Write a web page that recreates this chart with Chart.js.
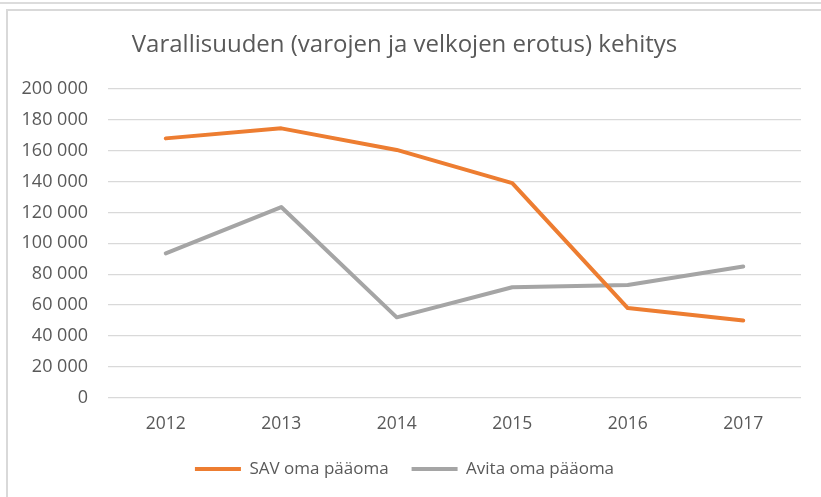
<!DOCTYPE html>
<html>
<head>
<meta charset="utf-8">
<script src="https://cdn.jsdelivr.net/npm/chart.js@4/dist/chart.umd.min.js"></script>
<style>
    html, body { margin: 0; padding: 0; background: #fff; }
    body { width: 821px; height: 497px; position: relative; overflow: hidden; }
    .topline { position: absolute; left: 0; top: 2px; width: 821px; height: 2px; background: #dcdcdc; }
    .frame { position: absolute; left: 6px; top: 9px; width: 830px; height: 500px;
             border-top: 2px solid #d9d9d9; border-left: 2px solid #d9d9d9; }
    #wrap { position: absolute; left: 0; top: 0; width: 821px; height: 497px; }
</style>
</head>
<body>
<div class="topline"></div>
<div class="frame"></div>
<div id="wrap"><canvas id="chart" width="821" height="497"></canvas></div>
<script>
// ==================== DATA ====================
const years = ["2012", "2013", "2014", "2015", "2016", "2017"];
const savOmaPaaoma = [168000, 174500, 160500, 139000, 58000, 50000];
const avitaOmaPaaoma = [93500, 123500, 52000, 71500, 73000, 85000];
const yTicks = [0, 20000, 40000, 60000, 80000, 100000, 120000, 140000, 160000, 180000, 200000];

const titleText = "Varallisuuden (varojen ja velkojen erotus) kehitys";
const FONT = "'Open Sans', 'Liberation Sans', sans-serif";
const TEXT_COLOR = "#595959";

// format 200000 -> "200 000"
function fmt(v) {
    return String(v).replace(/\B(?=(\d{3})+(?!\d))/g, " ");
}

const ctx = document.getElementById("chart");
new Chart(ctx, {
    type: "line",
    data: {
        labels: years,
        datasets: [
            {
                label: "SAV oma pääoma",
                data: savOmaPaaoma,
                borderColor: "#ED7D31",
                backgroundColor: "#ED7D31",
                borderWidth: 4,
                borderCapStyle: "round",
                borderJoinStyle: "round",
                pointRadius: 0,
                tension: 0,
            },
            {
                label: "Avita oma pääoma",
                data: avitaOmaPaaoma,
                borderColor: "#A5A5A5",
                backgroundColor: "#A5A5A5",
                borderWidth: 4,
                borderCapStyle: "round",
                borderJoinStyle: "round",
                pointRadius: 0,
                tension: 0,
            },
        ],
    },
    options: {
        responsive: false,
        animation: false,
        layout: { padding: { left: 8, right: 20, top: 0, bottom: 9.6 } },
        plugins: {
            title: {
                display: true,
                text: titleText,
                color: TEXT_COLOR,
                font: { family: FONT, size: 24, weight: "normal" },
                padding: { top: 31, bottom: 29.2 },
            },
            legend: {
                position: "bottom",
                labels: {
                    color: TEXT_COLOR,
                    font: { family: FONT, size: 17 },
                    boxWidth: 46,
                    boxHeight: 4,
                    padding: 23,
                    useBorderRadius: true,
                    borderRadius: 2,
                    generateLabels: (chart) => chart.data.datasets.map((ds, i) => ({
                        text: ds.label,
                        fillStyle: ds.borderColor,
                        strokeStyle: ds.borderColor,
                        lineWidth: 0,
                        fontColor: TEXT_COLOR,
                        datasetIndex: i,
                        hidden: false,
                    })),
                },
            },
            tooltip: { enabled: false },
        },
        scales: {
            x: {
                offset: true,
                afterFit: (scale) => { scale.height = 39.8; },
                grid: { display: false, drawTicks: false, offset: true },
                border: { display: false },
                ticks: {
                    color: TEXT_COLOR,
                    font: { family: FONT, size: 17.5 },
                    padding: 16,
                    maxRotation: 0,
                },
            },
            y: {
                min: 0,
                max: 200000,
                afterFit: (scale) => { scale.width = 100; },
                afterBuildTicks: (scale) => { scale.ticks = yTicks.map(v => ({ value: v })); },
                grid: { color: "#d9d9d9", lineWidth: 1.3, drawTicks: false },
                border: { display: false },
                ticks: {
                    color: TEXT_COLOR,
                    font: { family: FONT, size: 18 },
                    padding: 20,
                    callback: (v) => fmt(v),
                },
            },
        },
    },
});
</script>
</body>
</html>
